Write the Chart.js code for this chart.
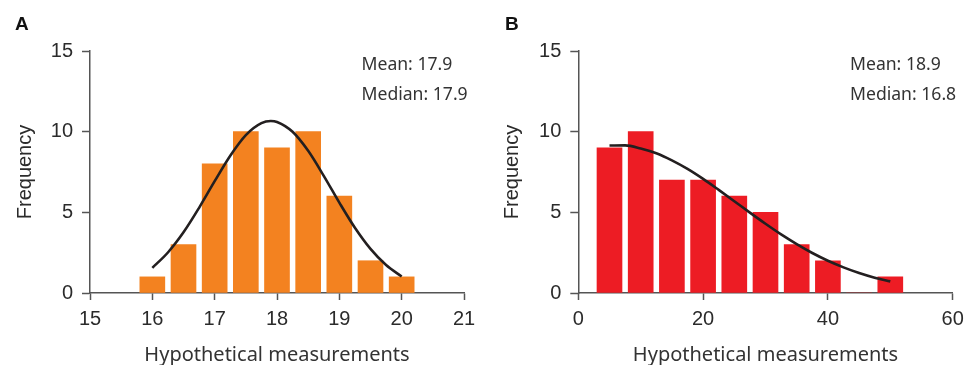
<!DOCTYPE html>
<html>
<head>
<meta charset="UTF-8">
<title>Histograms</title>
<script src="https://cdn.jsdelivr.net/npm/chart.js"></script>
<style>
  body { margin: 0; background: #fff; width: 965px; height: 365px; overflow: hidden; position: relative; }
  .panel { position: absolute; top: 0; }
  #wrapA { left: 0; width: 482px; height: 365px; }
  #wrapB { left: 482px; width: 483px; height: 365px; }
</style>
</head>
<body>
<div class="panel" id="wrapA"><canvas id="chartA"></canvas></div>
<div class="panel" id="wrapB"><canvas id="chartB"></canvas></div>
<script>
// panel A - roughly symmetric sample
const binsA = [16, 16.5, 17, 17.5, 18, 18.5, 19, 19.5, 20];
const countsA = [1, 3, 8, 10, 9, 10, 6, 2, 1];
const curveAX = [16, 16.25, 16.5, 16.75, 17, 17.25, 17.5, 17.75, 17.9, 18, 18.25, 18.5, 18.75, 19, 19.25, 19.5, 19.75, 20];
const curveAY = [1.56, 2.51, 3.76, 5.28, 6.93, 8.51, 9.79, 10.53, 10.66, 10.6, 9.99, 8.81, 7.26, 5.6, 4.04, 2.73, 1.73, 1.02];
const ticksAX = [15, 16, 17, 18, 19, 20, 21];
const statsA = ['Mean: 17.9', 'Median: 17.9'];

// panel B - skewed sample
const binsB = [5, 10, 15, 20, 25, 30, 35, 40, 45, 50];
const countsB = [9, 10, 7, 7, 6, 5, 3, 2, 0, 1];
const curveBX = [5, 7.5, 10, 12.5, 15, 17.5, 20, 22.5, 25, 27.5, 30, 32.5, 35, 37.5, 40, 42.5, 45, 47.5, 50];
const curveBY = [9.14, 9.15, 8.96, 8.66, 8.22, 7.69, 7.07, 6.39, 5.69, 4.98, 4.29, 3.63, 3.03, 2.48, 2.0, 1.59, 1.24, 0.95, 0.72];
const ticksBX = [0, 20, 40, 60];
const statsB = ['Mean: 18.9', 'Median: 16.8'];

const freqTicks = [0, 5, 10, 15];

const axisColor = '#555';
const textColor = '#2b2b2b';

function zip(xs, ys) {
    return xs.map((x, i) => ({ x: x, y: ys[i] }));
}

// draws the panel letter and the mean/median notes
const notesPlugin = {
    id: 'notes',
    afterDraw(chart, args, opts) {
        const ctx = chart.ctx;
        ctx.save();
        ctx.fillStyle = '#111';
        ctx.font = 'bold 19px "Liberation Sans", Arial, sans-serif';
        ctx.textBaseline = 'alphabetic';
        ctx.textAlign = 'left';
        ctx.fillText(opts.letter, opts.letterX, 29.5);
        ctx.fillStyle = '#333';
        ctx.font = '17.6px "Noto Sans", sans-serif';
        opts.lines.forEach((t, i) => ctx.fillText(t, opts.noteX, 70 + i * 30));
        ctx.restore();
    }
};

function makeChart(id, cfg) {
    return new Chart(document.getElementById(id), {
        data: {
            datasets: [
                {
                    type: 'line',
                    data: zip(cfg.curveX, cfg.curveY),
                    borderColor: '#231f20',
                    borderWidth: 2.6,
                    pointRadius: 0,
                    cubicInterpolationMode: 'monotone',
                    fill: false,
                    order: 0
                },
                {
                    type: 'bar',
                    data: zip(cfg.bins, cfg.counts),
                    backgroundColor: cfg.color,
                    barThickness: 25,
                    order: 1
                }
            ]
        },
        options: {
            responsive: true,
            maintainAspectRatio: false,
            animation: false,
            layout: { padding: { left: 0, right: cfg.padRight, top: 51, bottom: 0 } },
            plugins: {
                legend: { display: false },
                tooltip: { enabled: false },
                notes: { letter: cfg.letter, letterX: cfg.letterX, noteX: cfg.noteX, lines: cfg.stats }
            },
            scales: {
                x: {
                    type: 'linear',
                    offset: false,
                    min: cfg.xTicks[0],
                    max: cfg.xTicks[cfg.xTicks.length - 1],
                    afterBuildTicks: s => { s.ticks = cfg.xTicks.map(v => ({ value: v })); },
                    afterFit: s => { s.height = 72; s.paddingLeft = 0; s.paddingRight = 0; },
                    grid: { offset: false, drawOnChartArea: false, drawTicks: true, tickLength: 7, tickColor: axisColor, tickWidth: 1.5 },
                    border: { color: axisColor, width: 1.5 },
                    ticks: {
                        color: textColor, padding: 7, maxRotation: 0, autoSkip: false,
                        font: { family: '"Liberation Sans", Arial, sans-serif', size: 20 }
                    },
                    title: {
                        display: true, text: 'Hypothetical measurements', color: '#333',
                        font: { family: '"Noto Sans", sans-serif', size: 20, lineHeight: 1 },
                        padding: 0
                    }
                },
                y: {
                    min: 0,
                    max: 15,
                    afterBuildTicks: s => { s.ticks = freqTicks.map(v => ({ value: v })); },
                    afterFit: s => { s.width = cfg.yWidth; s.paddingTop = 0; s.paddingBottom = 0; },
                    grid: { drawOnChartArea: false, drawTicks: true, tickLength: 8, tickColor: axisColor, tickWidth: 1.5 },
                    border: { color: axisColor, width: 1.5 },
                    ticks: {
                        color: textColor, padding: 9,
                        font: { family: '"Liberation Sans", Arial, sans-serif', size: 20 }
                    },
                    title: {
                        display: true, text: 'Frequency', color: textColor,
                        font: { family: '"Liberation Sans", Arial, sans-serif', size: 20, lineHeight: 1.2 },
                        padding: { top: cfg.titlePad, bottom: 0 }
                    }
                }
            }
        },
        plugins: [notesPlugin]
    });
}

makeChart('chartA', {
    bins: binsA, counts: countsA, curveX: curveAX, curveY: curveAY, xTicks: ticksAX,
    color: '#f38220', letter: 'A', letterX: 15, noteX: 361.5, stats: statsA,
    yWidth: 90, padRight: 18, titlePad: 13
});

makeChart('chartB', {
    bins: binsB, counts: countsB, curveX: curveBX, curveY: curveBY, xTicks: ticksBX,
    color: '#ed1c24', letter: 'B', letterX: 23, noteX: 368, stats: statsB,
    yWidth: 96.3, padRight: 12.3, titlePad: 18
});
</script>
</body>
</html>
